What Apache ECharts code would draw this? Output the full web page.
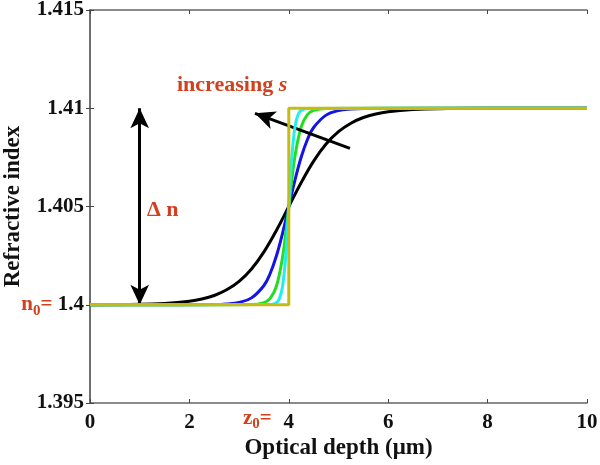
<!DOCTYPE html>
<html><head><meta charset="utf-8">
<script src="https://cdn.jsdelivr.net/npm/echarts@6/dist/echarts.min.js"></script>
<style>html,body{margin:0;padding:0;background:#fff}#c{width:600px;height:465px}</style>
</head><body><div id="c"></div>
<script>
var xTicks = [0, 2, 4, 6, 8, 10];
var yTicks = [1.395, 1.4, 1.405, 1.41, 1.415];
var blackPts = [[0,1.4],[1,1.40002],[1.5,1.40007],[2,1.40018],[2.25,1.40029],[2.5,1.40047],[2.75,1.40076],[3,1.40119],[3.25,1.40182],[3.5,1.40269],[3.75,1.40378],[4,1.405],[4.25,1.40622],[4.5,1.40731],[4.75,1.40818],[5,1.40881],[5.25,1.40924],[5.5,1.40953],[5.75,1.40971],[6,1.40982],[6.5,1.40993],[7,1.40998],[8,1.41],[10,1.41]];
var bluePts = [[0,1.4],[2.5,1.40001],[2.75,1.40004],[3,1.40012],[3.25,1.40035],[3.5,1.40098],[3.625,1.40159],[3.75,1.40248],[3.875,1.40365],[4,1.405],[4.125,1.40635],[4.25,1.40752],[4.375,1.40841],[4.5,1.40902],[4.75,1.40965],[5,1.40988],[5.25,1.40996],[5.5,1.40999],[10,1.41]];
var greenPts = [[0,1.4],[3.25,1.40001],[3.5,1.40011],[3.625,1.40032],[3.75,1.40094],[3.875,1.40243],[3.9375,1.40362],[4,1.405],[4.0625,1.40638],[4.125,1.40757],[4.25,1.40906],[4.375,1.40968],[4.5,1.40989],[4.75,1.40999],[10,1.41]];
var cyanPts = [[0,1.4],[3.625,1.40001],[3.75,1.4001],[3.8125,1.40032],[3.875,1.40094],[3.9375,1.40243],[3.97,1.40367],[4,1.405],[4.03,1.40633],[4.0625,1.40757],[4.125,1.40906],[4.1875,1.40968],[4.25,1.4099],[4.375,1.40999],[10,1.41]];
var yellowPts = [[0,1.4],[4,1.4],[4,1.41],[10,1.41]];
var deltaArrow = [[1,1.4],[1,1.41]];
var sArrow = [[5.23,1.40796],[3.32,1.40974]];

var RED = '#d2401e';
var FONT = '"Liberation Serif","DejaVu Serif",serif';
var chart = echarts.init(document.getElementById('c'));
function lineSeries(pts, color, smooth, z) {
  return {type:'line', data:pts, showSymbol:false, symbol:'none', smooth:smooth, z:z,
    lineStyle:{color:color, width:3}, silent:true};
}
var axisBase = {
  axisLine:{lineStyle:{color:'#666', width:1.5}},
  axisTick:{inside:true, length:4, lineStyle:{color:'#444'}},
  splitLine:{show:false}
};
chart.setOption({
  animation:false,
  backgroundColor:'#fff',
  grid:{left:90, right:13, top:10, bottom:62, containLabel:false, outerBoundsMode:'none'},
  xAxis:[
    Object.assign({type:'value', min:0, max:10, interval:2,
      name:'Optical depth (\u03bcm)', nameLocation:'middle', nameGap:34, nameMoveOverlap:false,
      nameTextStyle:{fontFamily:FONT, fontWeight:'bold', fontSize:23, color:'#111'},
      axisLabel:{fontFamily:FONT, fontWeight:'bold', fontSize:21, color:'#111', margin:9}}, axisBase),
    Object.assign({type:'value', min:0, max:10, interval:2, position:'top', axisLabel:{show:false}}, axisBase)
  ],
  yAxis:[
    Object.assign({type:'value', min:1.395, max:1.415, interval:0.005,
      name:'Refractive index', nameLocation:'middle', nameGap:65, nameMoveOverlap:false,
      nameTextStyle:{fontFamily:FONT, fontWeight:'bold', fontSize:23, color:'#111'},
      axisLabel:{fontFamily:FONT, fontWeight:'bold', fontSize:21, color:'#111', margin:6,
        formatter:function(v){
          var s = +v.toFixed(3) + '';
          if (Math.abs(v-1.4) < 1e-9) return '{r|n}{sub|0}{r|= }{b|1.4}';
          return '{b|' + s + '}';
        },
        rich:{
          r:{color:RED, fontFamily:FONT, fontWeight:'bold', fontSize:21},
          sub:{color:RED, fontFamily:FONT, fontWeight:'bold', fontSize:15, padding:[12,0,0,0]},
          b:{color:'#111', fontFamily:FONT, fontWeight:'bold', fontSize:21}
        }}}, axisBase),
    Object.assign({type:'value', min:1.395, max:1.415, interval:0.005, position:'right', axisLabel:{show:false}}, axisBase)
  ],
  series:[
    lineSeries(blackPts, '#000000', 0.4, 2),
    lineSeries(bluePts, '#1414e6', 0.4, 3),
    lineSeries(greenPts, '#22dd22', 0.4, 4),
    lineSeries(cyanPts, '#22eeee', 0.4, 5),
    lineSeries(yellowPts, '#c5bb14', false, 6),
    {type:'line', data:[], silent:true, z:7,
      markLine:{silent:true, animation:false, label:{show:false},
        lineStyle:{color:'#000', width:3, type:'solid'},
        data:[
          [{coord:deltaArrow[0], symbol:'arrow', symbolSize:[14,20]},{coord:deltaArrow[1], symbol:'arrow', symbolSize:[14,20]}],
          [{coord:sArrow[0], symbol:'none'},{coord:sArrow[1], symbol:'arrow', symbolSize:[14,20]}]
        ]}}
  ],
  graphic:[
    {type:'text', left:177, top:74, style:{text:'{a|increasing }{i|s}',
      rich:{a:{fill:RED, font:'bold 22px '+FONT}, i:{fill:RED, font:'italic bold 22px '+FONT}}}},
    {type:'text', left:147, top:199, style:{text:'\u0394 n', fill:RED, font:'bold 22px '+FONT}},
    {type:'text', left:243, top:408, style:{text:'{r|z}{sub|0}{r|=}',
      rich:{r:{fill:RED, font:'bold 21px '+FONT}, sub:{fill:RED, font:'bold 15px '+FONT, padding:[12,0,0,0]}}}}
  ]
});
</script></body></html>
